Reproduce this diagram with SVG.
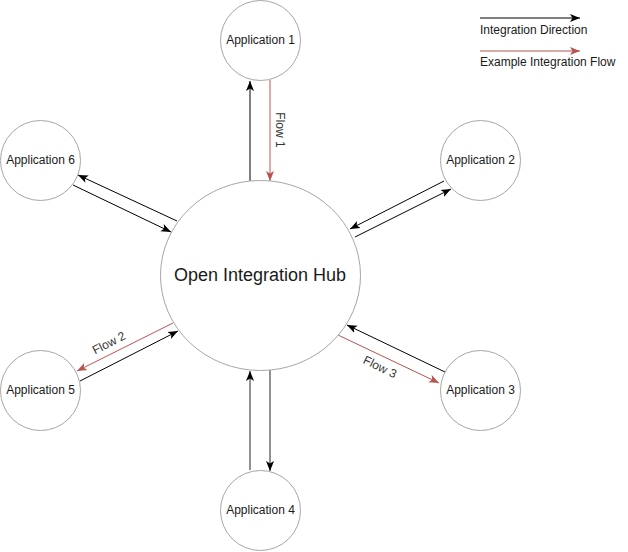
<svg xmlns="http://www.w3.org/2000/svg" width="628" height="552" viewBox="0 0 628 552">
<style>
.node{fill:#ffffff;stroke:#a6a6a6;stroke-width:1}
.lbl{font-family:"Liberation Sans",Arial,sans-serif;font-size:12px;fill:#1a1a1a;text-anchor:middle}
.hub{font-family:"Liberation Sans",Arial,sans-serif;font-size:18px;fill:#1a1a1a;text-anchor:middle}
.leg{font-family:"Liberation Sans",Arial,sans-serif;font-size:12px;fill:#1a1a1a}
.blk{stroke:#000000;stroke-width:1;fill:none;marker-end:url(#ab)}
.gry{stroke:#555555;stroke-width:1.3;fill:none;marker-end:url(#ab)}
.red{stroke:#b85450;stroke-width:1;fill:none;marker-end:url(#ar)}
.flow{font-family:"Liberation Sans",Arial,sans-serif;font-size:12px;fill:#333333;text-anchor:middle}
</style>
<defs>
<marker id="ab" viewBox="0 0 10 10" markerWidth="10" markerHeight="10" refX="10" refY="5" orient="auto" markerUnits="userSpaceOnUse">
<path d="M0,1 L10,5 L0,9 L2.5,5 Z" fill="#000000"/>
</marker>
<marker id="ar" viewBox="0 0 10 10" markerWidth="10" markerHeight="10" refX="10" refY="5" orient="auto" markerUnits="userSpaceOnUse">
<path d="M0,1 L10,5 L0,9 L2.5,5 Z" fill="#b85450"/>
</marker>
</defs>
<rect width="628" height="552" fill="#ffffff"/>
<g id="connectors">
<line class="blk" x1="250" y1="181" x2="250" y2="81"/>
<line class="red" x1="270" y1="80" x2="270" y2="181"/>
<line class="gry" x1="250" y1="470" x2="250" y2="371"/>
<line class="gry" x1="270" y1="370" x2="270" y2="471"/>
<line class="blk" x1="177" y1="221" x2="78" y2="175"/>
<line class="blk" x1="73" y1="185" x2="171" y2="232"/>
<line class="blk" x1="444" y1="181" x2="350" y2="229"/>
<line class="blk" x1="355" y1="237" x2="451" y2="189"/>
<line class="red" x1="173" y1="323" x2="77" y2="371"/>
<line class="blk" x1="80" y1="381" x2="178" y2="331"/>
<line class="blk" x1="445" y1="372" x2="347" y2="325"/>
<line class="red" x1="338" y1="335" x2="439" y2="383"/>
<text class="flow" transform="translate(280,130) rotate(90)" x="0" y="4">Flow 1</text>
<text class="flow" transform="translate(109,343) rotate(-27)" x="0" y="4">Flow 2</text>
<text class="flow" transform="translate(380,367) rotate(26)" x="0" y="4">Flow 3</text>
</g>
<g id="hub">
<ellipse class="node" cx="260.5" cy="275.5" rx="100" ry="95"/>
<text class="hub" x="260" y="281">Open Integration Hub</text>
</g>
<g id="app1">
<circle class="node" cx="260.5" cy="40.5" r="40"/>
<text class="lbl" x="260.5" y="44">Application 1</text>
</g>
<g id="app2">
<circle class="node" cx="480.5" cy="160.5" r="40"/>
<text class="lbl" x="480.5" y="164">Application 2</text>
</g>
<g id="app3">
<circle class="node" cx="480.5" cy="390.5" r="40"/>
<text class="lbl" x="480.5" y="394">Application 3</text>
</g>
<g id="app4">
<circle class="node" cx="260.5" cy="510.5" r="40"/>
<text class="lbl" x="260.5" y="514">Application 4</text>
</g>
<g id="app5">
<circle class="node" cx="40.5" cy="390.5" r="40"/>
<text class="lbl" x="40.5" y="394">Application 5</text>
</g>
<g id="app6">
<circle class="node" cx="40.5" cy="160.5" r="40"/>
<text class="lbl" x="40.5" y="164">Application 6</text>
</g>
<g id="legend">
<line class="blk" x1="480" y1="18" x2="580" y2="18"/>
<text class="leg" x="480" y="34">Integration Direction</text>
<line class="red" x1="480" y1="51" x2="580" y2="51"/>
<text class="leg" x="480" y="66">Example Integration Flow</text>
</g>
</svg>
